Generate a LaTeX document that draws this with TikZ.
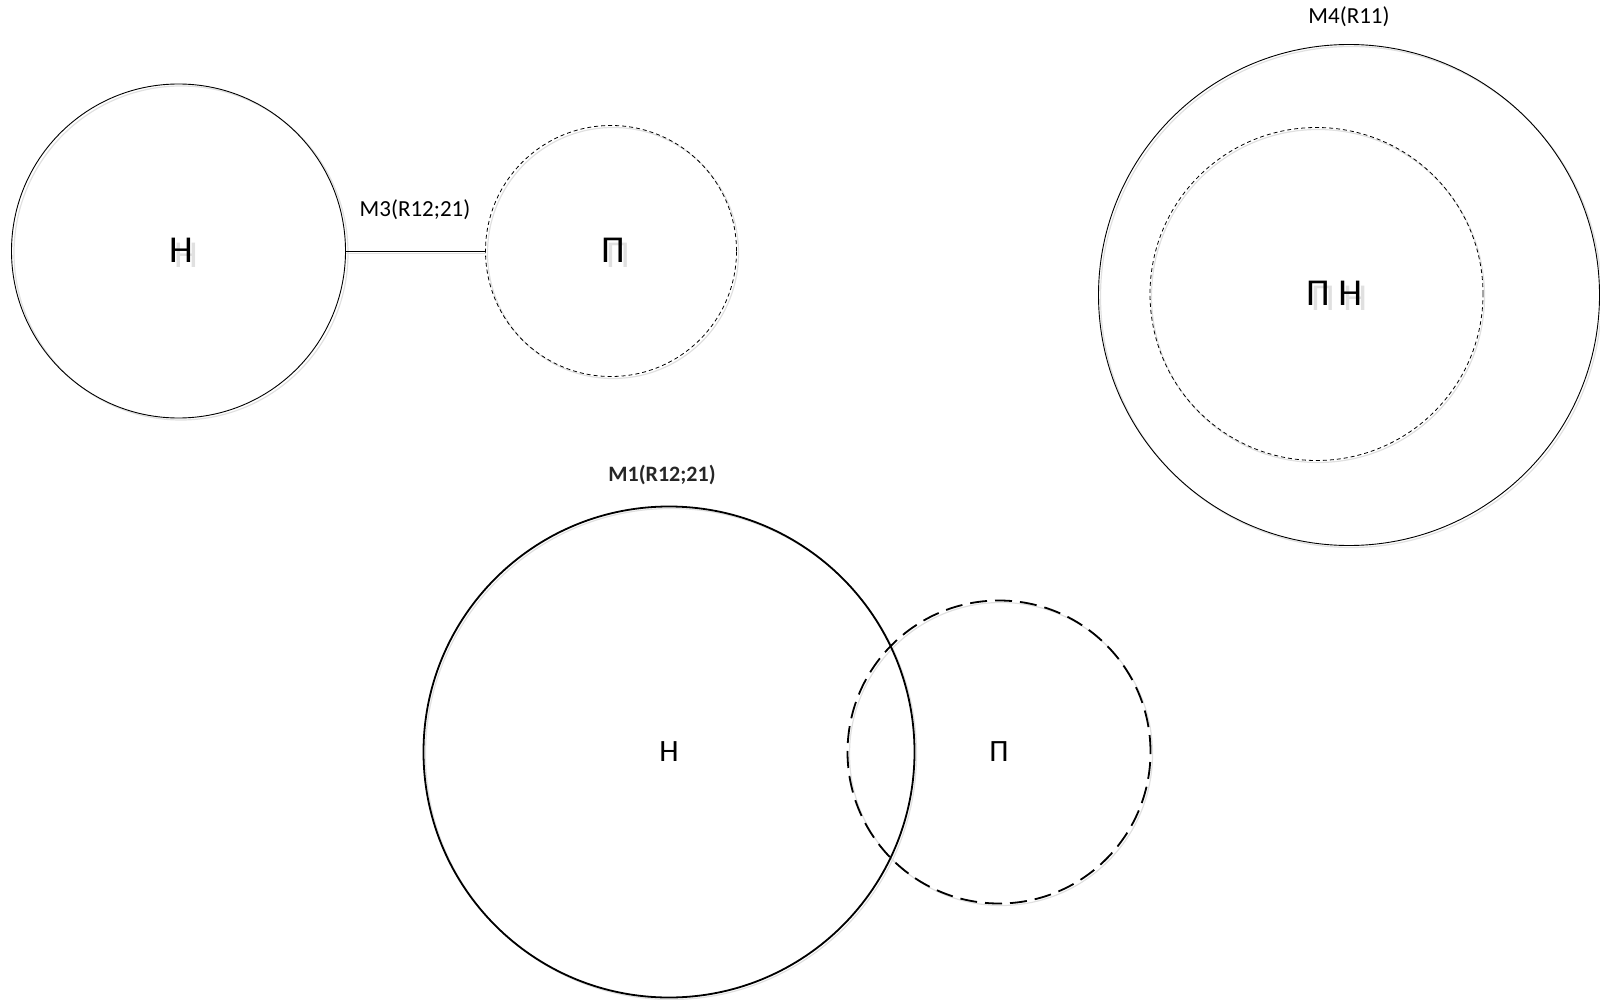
\documentclass[tikz,border=0pt]{standalone}
\usepackage{fontspec}
\setmainfont{Carlito}
% letter with a pale offset copy behind it
\newcommand{\shaded}[1]{\makebox[0pt][l]{\hspace{5pt}\raisebox{-5pt}{\textcolor{black!12}{#1}}}#1}
\begin{document}
\begin{tikzpicture}[x=1pt,y=-1pt,
  solidring/.style={circle,draw=black,line width=0.9pt,inner sep=0pt,minimum size=#1},
  heavyring/.style={circle,draw=black,line width=1.8pt,inner sep=0pt,minimum size=#1},
  dotring/.style={circle,draw=black,line width=0.8pt,dash pattern=on 4pt off 3pt,inner sep=0pt,minimum size=#1},
  dashring/.style={circle,draw=black,line width=1.8pt,dash pattern=on 17pt off 8pt,inner sep=0pt,minimum size=#1},
  ghost/.style={circle,draw=black!12,line width=1.2pt,inner sep=0pt,minimum size=#1},
  biglet/.style={font=\fontsize{38}{40}\selectfont},
  midlet/.style={font=\fontsize{31}{33}\selectfont},
  tag/.style={font=\fontsize{23}{25}\selectfont}]
\useasboundingbox (0,0) rectangle (1600,1000);

% soft offset outlines behind every circle
\node[ghost=334pt] at (181,253) {};
\node[ghost=251pt] at (613,253) {};
\node[ghost=501pt] at (1351,297) {};
\node[ghost=333pt] at (1318,296) {};
\node[ghost=491pt] at (671,754) {};
\node[ghost=303pt] at (1001,754) {};
\draw[black!12,line width=1pt] (346,254) -- (486,254);

% M3: H linked to P
\node[solidring=334pt] (h3) at (178.5,251) {};
\node[dotring=251pt] (p3) at (611,251) {};
\draw[line width=0.9pt] (h3.east) -- (p3.west);
\node[tag] (m3) at (415,210) {M3(R12;21)};
\node[biglet] (h3t) at (181,253) {\shaded{Н}};
\node[biglet] (p3t) at (613,253) {\shaded{П}};

% M4: P inside H
\node[solidring=501pt] (h4) at (1349,295) {};
\node[dotring=333pt] (p4) at (1316.5,294) {};
\node[tag] (m4) at (1349,17) {M4(R11)};
\node[biglet] (ph4t) at (1334,296) {\shaded{П} \shaded{Н}};

% M1: H and P overlapping
\node[heavyring=491pt] (h1) at (669,752) {};
\node[dashring=303pt] (p1) at (999,752) {};
\node[tag,font=\bfseries\fontsize{22}{24}\selectfont,text=black!85] (m1) at (662,475) {M1(R12;21)};
\node[midlet] (h1t) at (669,752) {Н};
\node[midlet] (p1t) at (999,752) {П};
\end{tikzpicture}
\end{document}
